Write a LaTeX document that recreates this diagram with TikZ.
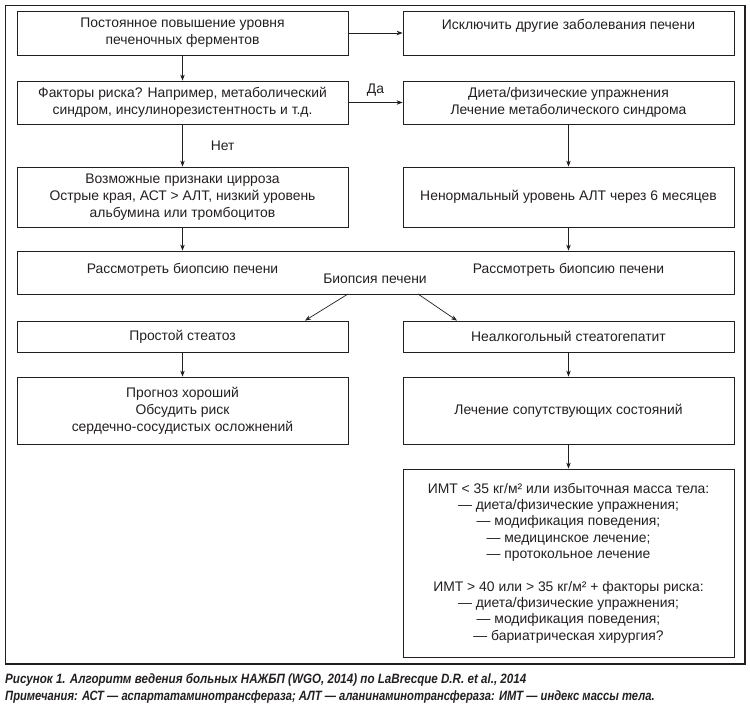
\documentclass[tikz,border=0pt]{standalone}
\usepackage{fontspec}
\setmainfont{Liberation Sans}
\newfontfamily\capfont[FakeStretch=0.86]{Liberation Sans}
\newfontfamily\capfontb[FakeStretch=0.83]{Liberation Sans}
\usetikzlibrary{arrows.meta}
\definecolor{txt}{HTML}{231F20}
\tikzset{
  box/.style={draw=txt, line width=0.8pt, minimum width=331pt, align=center,
    inner sep=0pt, text=txt, font=\fontsize{13.9}{16.8}\selectfont},
  conn/.style={draw=txt, line width=0.7pt, -{Stealth[length=6pt,width=4.5pt]}},
  lbl/.style={text=txt, font=\fontsize{13.9}{16.8}\selectfont, inner sep=0pt},
  captext/.style={text=txt, font=\capfont\bfseries\itshape\fontsize{13.5}{15}\selectfont, inner sep=0pt, anchor=west},
  captextb/.style={text=txt, font=\capfontb\bfseries\itshape\fontsize{13.5}{15}\selectfont, inner sep=0pt, anchor=west}
}
\begin{document}
\begin{tikzpicture}[x=1pt,y=-1pt]
\useasboundingbox (0,0) rectangle (750,710);
\draw[draw=txt, line width=1.1pt] (5.5,5.5) rectangle (745,664);

\node[box, minimum height=44pt] (b1) at (182.5,33) {Постоянное повышение уровня\\печеночных ферментов};
\node[box, minimum height=44pt] (b2) at (568.5,33) {Исключить другие заболевания печени\\\mbox{}};
\node[box, minimum height=43pt] (b3) at (182.5,102.5) {Факторы риска? Например, метаболический\\синдром, инсулинорезистентность и т.д.};
\node[box, minimum height=43pt] (b4) at (568.5,102.5) {Диета/физические упражнения\\Лечение метаболического синдрома};
\node[box, minimum height=60pt] (b5) at (182.5,197) {Возможные признаки цирроза\\Острые края, АСТ > АЛТ, низкий уровень\\альбумина или тромбоцитов};
\node[box, minimum height=60pt] (b6) at (568.5,197) {Ненормальный уровень АЛТ через 6 месяцев};
\node[box, minimum width=717pt, minimum height=43pt] (b7) at (375.5,272.5) {};
\node[lbl] (t7a) at (182.5,269.5) {Рассмотреть биопсию печени};
\node[lbl] (t7b) at (568.5,269.5) {Рассмотреть биопсию печени};
\node[lbl] (bio) at (375,279) {Биопсия печени};
\coordinate (s8) at (348,294);
\coordinate (s9) at (418,294);
\node[box, minimum height=31pt] (b8) at (182.5,336.5) {Простой стеатоз};
\node[box, minimum height=31pt] (b9) at (568.5,336.5) {Неалкогольный стеатогепатит};
\node[box, minimum height=67pt] (b10) at (182.5,410.5) {Прогноз хороший\\Обсудить риск\\сердечно-сосудистых осложнений};
\node[box, minimum height=67pt] (b11) at (568.5,410.5) {Лечение сопутствующих состояний};
\node[box, minimum height=188pt, font=\fontsize{13.9}{16.3}\selectfont] (b12) at (568.5,563) {ИМТ < 35 кг/м² или избыточная масса тела:\\— диета/физические упражнения;\\— модификация поведения;\\— медицинское лечение;\\— протокольное лечение\\[16.3pt]ИМТ > 40 или > 35 кг/м² + факторы риска:\\— диета/физические упражнения;\\— модификация поведения;\\— бариатрическая хирургия?};

\draw[conn] (b1) -- (b2);
\draw[conn] (b1) -- (b3);
\draw[conn] (b3) -- node[lbl, above=6pt] (da) {Да} (b4);
\draw[conn] (b3) -- node[lbl, right=28pt, pos=0.5] (net) {Нет} (b5);
\draw[conn] (b4) -- (b6);
\draw[conn] (b5) -- (b7.north -| b5);
\draw[conn] (b6) -- (b7.north -| b6);
\draw[conn] (s8) -- (b8.north -| 305,0);
\draw[conn] (s9) -- (b9.north -| 457,0);
\draw[conn] (b8) -- (b10);
\draw[conn] (b9) -- (b11);
\draw[conn] (b11) -- (b12);

\node[captext] (c1) at (5,680) {Рисунок 1. Алгоритм ведения больных НАЖБП (WGO, 2014) по LaBrecque D.R. et al., 2014};
\node[captextb] (c2) at (5,697) {Примечания: АСТ — аспартатаминотрансфераза; АЛТ — аланинаминотрансфераза: ИМТ — индекс массы тела.};
\end{tikzpicture}
\end{document}
